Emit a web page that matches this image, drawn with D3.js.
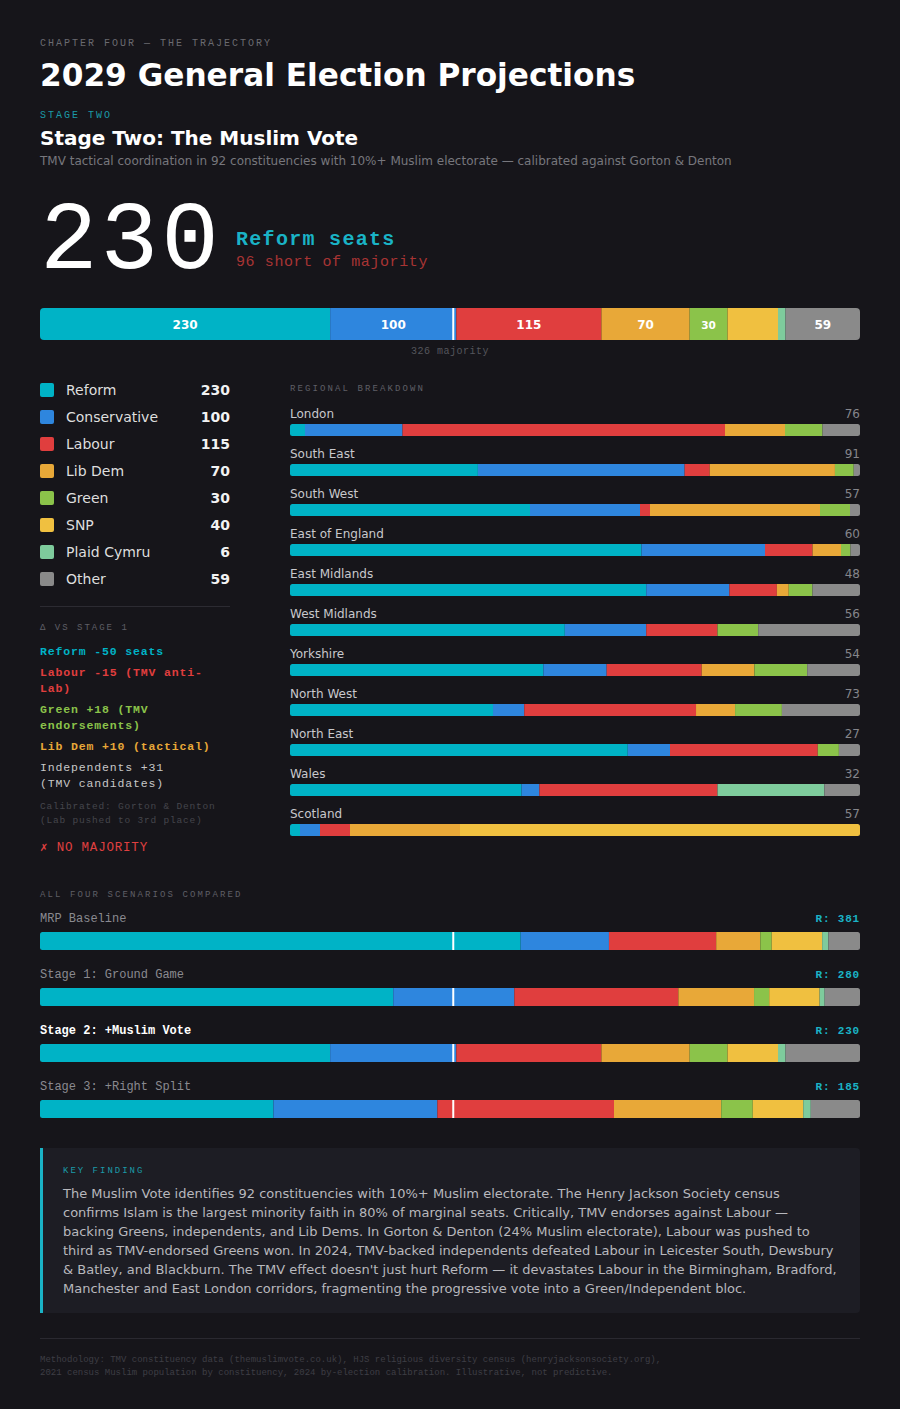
<!DOCTYPE html>
<html><head><meta charset="utf-8">
<script src="https://cdn.jsdelivr.net/npm/d3@7"></script>
<style>
html,body{margin:0;padding:0;background:#16151a;}
svg{display:block;}
</style></head><body>
<div id="chart"></div>
<script>
// ---------- DATA ----------
const parties = ["Reform","Conservative","Labour","Lib Dem","Green","SNP","Plaid Cymru","Other"];
const stage2Seats = [230,100,115,70,30,40,6,59];
const mainBarLabelled = ["Reform","Conservative","Labour","Lib Dem","Green","Other"];
const majority = 326;

const regions = ["London","South East","South West","East of England","East Midlands","West Midlands","Yorkshire","North West","North East","Wales","Scotland"];
const regionReform = [2,30,24,37,30,27,24,26,16,13,1];
const regionCon    = [13,33,11,13,7,8,6,4,2,1,2];
const regionLab    = [43,4,1,5,4,7,9,22,7,10,3];
const regionLD     = [8,20,17,3,1,0,5,5,0,0,11];
const regionGreen  = [5,3,3,1,2,4,5,6,1,0,0];
const regionSNP    = [0,0,0,0,0,0,0,0,0,0,40];
const regionPC     = [0,0,0,0,0,0,0,0,0,6,0];
const regionOther  = [5,1,1,1,4,10,5,10,1,2,0];

const scenarios = ["MRP Baseline","Stage 1: Ground Game","Stage 2: +Muslim Vote","Stage 3: +Right Split"];
const scenReform = [381,280,230,185];
const scenCon    = [70,96,100,130];
const scenLab    = [85,130,115,140];
const scenLD     = [35,60,70,85];
const scenGreen  = [9,12,30,25];
const scenSNP    = [40,40,40,40];
const scenPC     = [5,4,6,6];
const scenOther  = [25,28,59,39];
const currentScenario = "Stage 2: +Muslim Vote";

const deltaLines = [
  {lines:["Reform -50 seats"], party:"Reform"},
  {lines:["Labour -15 (TMV anti-","Lab)"], party:"Labour"},
  {lines:["Green +18 (TMV","endorsements)"], party:"Green"},
  {lines:["Lib Dem +10 (tactical)"], party:"Lib Dem"},
  {lines:["Independents +31","(TMV candidates)"], party:"Independents"}
];
const findingLines = [
  "The Muslim Vote identifies 92 constituencies with 10%+ Muslim electorate. The Henry Jackson Society census",
  "confirms Islam is the largest minority faith in 80% of marginal seats. Critically, TMV endorses against Labour —",
  "backing Greens, independents, and Lib Dems. In Gorton & Denton (24% Muslim electorate), Labour was pushed to",
  "third as TMV-endorsed Greens won. In 2024, TMV-backed independents defeated Labour in Leicester South, Dewsbury",
  "& Batley, and Blackburn. The TMV effect doesn't just hurt Reform — it devastates Labour in the Birmingham, Bradford,",
  "Manchester and East London corridors, fragmenting the progressive vote into a Green/Independent bloc."
];
const footerLines = [
  "Methodology: TMV constituency data (themuslimvote.co.uk), HJS religious diversity census (henryjacksonsociety.org),",
  "2021 census Muslim population by constituency, 2024 by-election calibration. Illustrative, not predictive."
];

// ---------- STYLE ----------
const colors = {"Reform":"#00b3c6","Conservative":"#2e86de","Labour":"#e03e3e","Lib Dem":"#e8a838","Green":"#8bc34a","SNP":"#f0c040","Plaid Cymru":"#7ecb9c","Other":"#8a8a8a","Independents":"#c8c8c8"};
const SANS = "'DejaVu Sans', sans-serif";
const MONO = "'Liberation Mono', 'Courier New', monospace";
const W = 900, H = 1409;

const svg = d3.select("#chart").append("svg").attr("width", W).attr("height", H);
svg.append("rect").attr("width", W).attr("height", H).attr("fill", "#16151a");
const defs = svg.append("defs");

function txt(x, y, s, o) {
  const t = svg.append("text").attr("x", x).attr("y", y).text(s)
    .attr("font-family", o.font || SANS).attr("font-size", o.size).attr("fill", o.fill);
  if (o.weight) t.attr("font-weight", o.weight);
  if (o.ls) t.attr("letter-spacing", o.ls);
  if (o.anchor) t.attr("text-anchor", o.anchor);
  return t;
}

// ---------- HEADER ----------
txt(40, 46, "CHAPTER FOUR — THE TRAJECTORY", {font: MONO, size: 10, fill: "#6a6a70", ls: 2});
txt(40, 86, "2029 General Election Projections", {size: 31.2, weight: "bold", fill: "#ffffff"});
txt(40, 118, "STAGE TWO", {font: MONO, size: 10, fill: "#1b9aa8", ls: 2});
txt(40, 145, "Stage Two: The Muslim Vote", {size: 20, weight: "bold", fill: "#ffffff"});
txt(40, 165, "TMV tactical coordination in 92 constituencies with 10%+ Muslim electorate — calibrated against Gorton & Denton", {size: 12, fill: "#77777d"});

txt(40, 268, String(stage2Seats[0]), {font: MONO, size: 96, fill: "#ffffff", ls: 3});
txt(236, 245, "Reform seats", {font: MONO, size: 20, fill: "#1ab3c6", ls: 1.3, weight: "bold"});
txt(236, 266, (majority - stage2Seats[0]) + " short of majority", {font: MONO, size: 15, fill: "#a83434", ls: 0.6});

// ---------- STACK HELPER ----------
function drawStack(values, x0, x1, y, h, r, id) {
  const total = d3.sum(values);
  const x = d3.scaleLinear().domain([0, total]).range([x0, x1]);
  const cum = [0, ...d3.cumsum(values)];
  defs.append("clipPath").attr("id", id).append("rect")
    .attr("x", x0).attr("y", y).attr("width", x1 - x0).attr("height", h).attr("rx", r);
  const g = svg.append("g").attr("clip-path", `url(#${id})`);
  const segs = parties.map((p, i) => ({p, v: values[i], a: cum[i], b: cum[i + 1]})).filter(d => d.v > 0);
  g.selectAll("rect").data(segs).join("rect")
    .attr("x", d => x(d.a)).attr("y", y)
    .attr("width", d => Math.max(0, x(d.b) - x(d.a))).attr("height", h)
    .attr("fill", d => colors[d.p]);
  return {x, segs, g, total};
}

// ---------- MAIN BAR ----------
const main = drawStack(stage2Seats, 40, 860, 308, 32, 4, "clipMain");
main.g.selectAll("text.lab").data(main.segs.filter(d => mainBarLabelled.includes(d.p))).join("text")
  .attr("x", d => (main.x(d.a) + main.x(d.b)) / 2).attr("y", 329)
  .attr("text-anchor", "middle").attr("font-family", SANS).attr("font-weight", "bold")
  .attr("font-size", d => d.v < 40 ? 10.5 : 12).attr("fill", "#ffffff").text(d => d.v);
svg.append("rect").attr("x", main.x(majority) + 1).attr("y", 308).attr("width", 2).attr("height", 32).attr("fill", "#ffffff");
txt(450, 354, majority + " majority", {font: MONO, size: 10, fill: "#55555c", anchor: "middle", ls: 0.5});

// ---------- LEGEND ----------
parties.forEach((p, i) => {
  const cy = 390 + i * 27;
  svg.append("rect").attr("x", 40).attr("y", cy - 7).attr("width", 14).attr("height", 14).attr("rx", 2).attr("fill", colors[p]);
  txt(66, cy + 5, p, {size: 14, fill: "#dedede"});
  txt(230, cy + 5, stage2Seats[i], {size: 14, weight: "bold", fill: "#f2f2f2", anchor: "end"});
});
svg.append("line").attr("x1", 40).attr("x2", 230).attr("y1", 606.5).attr("y2", 606.5).attr("stroke", "#2c2b32");
txt(40, 630, "Δ VS STAGE 1", {font: MONO, size: 9, fill: "#5f5f66", ls: 2});
let dy = 655;
deltaLines.forEach(d => {
  d.lines.forEach((l, j) => {
    txt(40, dy + j * 16, l, {font: MONO, size: 11.5, fill: colors[d.party], ls: 0.85, weight: d.party === "Independents" ? null : "bold"});
  });
  dy += d.lines.length * 16 + 5;
});
txt(40, 809, "Calibrated: Gorton & Denton", {font: MONO, size: 9.5, fill: "#45454c", ls: 0.8});
txt(40, 823, "(Lab pushed to 3rd place)", {font: MONO, size: 9.5, fill: "#45454c", ls: 0.8});
txt(40, 851, "✗ NO MAJORITY", {font: MONO, size: 12.5, fill: "#e04040", ls: 0.8});

// ---------- REGIONAL ----------
txt(290, 391, "REGIONAL BREAKDOWN", {font: MONO, size: 9, fill: "#5f5f66", ls: 2.1});
regions.forEach((name, i) => {
  const vals = [regionReform[i], regionCon[i], regionLab[i], regionLD[i], regionGreen[i], regionSNP[i], regionPC[i], regionOther[i]];
  const top = 424 + i * 40;
  txt(290, top - 6, name, {size: 12, fill: "#c8c8cc"});
  txt(860, top - 6, d3.sum(vals), {size: 12, fill: "#85858b", anchor: "end"});
  drawStack(vals, 290, 860, top, 12, 2.5, "clipReg" + i);
});

// ---------- SCENARIOS ----------
txt(40, 897, "ALL FOUR SCENARIOS COMPARED", {font: MONO, size: 9, fill: "#5f5f66", ls: 2.1});
scenarios.forEach((name, i) => {
  const vals = [scenReform[i], scenCon[i], scenLab[i], scenLD[i], scenGreen[i], scenSNP[i], scenPC[i], scenOther[i]];
  const top = 932 + i * 56;
  const cur = name === currentScenario;
  txt(40, top - 10, name, {font: MONO, size: 12, fill: cur ? "#ffffff" : "#8a8a90", weight: cur ? "bold" : null});
  txt(860, top - 10, "R: " + scenReform[i], {font: MONO, size: 11, fill: "#1ab3c6", anchor: "end", weight: "bold", ls: 0.8});
  const s = drawStack(vals, 40, 860, top, 18, 2.5, "clipScen" + i);
  svg.append("rect").attr("x", s.x(majority) + 1).attr("y", top).attr("width", 2).attr("height", 18).attr("fill", "#ffffff");
});

// ---------- KEY FINDING ----------
svg.append("rect").attr("x", 40).attr("y", 1148).attr("width", 820).attr("height", 165).attr("rx", 4).attr("fill", "#1d1d24");
svg.append("rect").attr("x", 40).attr("y", 1148).attr("width", 3).attr("height", 165).attr("fill", "#1ab3c6");
txt(63, 1173, "KEY FINDING", {font: MONO, size: 9, fill: "#1b9aa8", ls: 2});
findingLines.forEach((l, i) => txt(63, 1198 + i * 19, l, {size: 13, fill: "#b8b8bd"}));

// ---------- FOOTER ----------
svg.append("line").attr("x1", 40).attr("x2", 860).attr("y1", 1338.5).attr("y2", 1338.5).attr("stroke", "#2a2930");
footerLines.forEach((l, i) => txt(40, 1362 + i * 13, l, {font: MONO, size: 9, fill: "#3e3e45"}));
</script>
</body></html>
